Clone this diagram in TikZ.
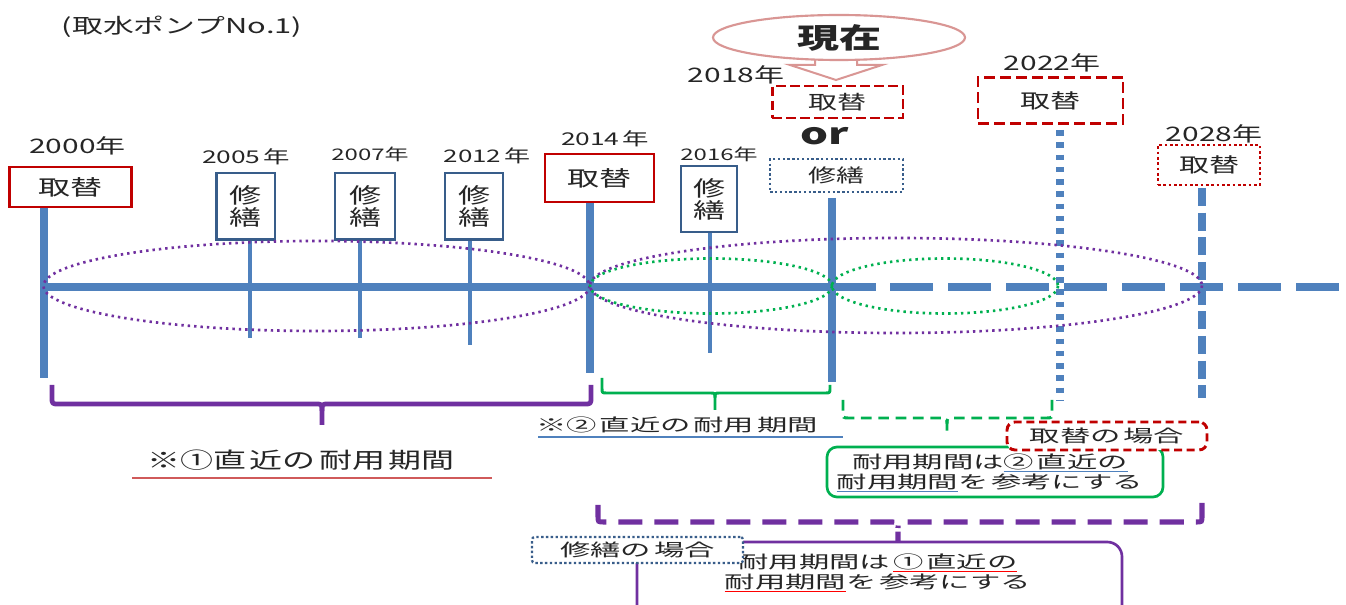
\documentclass[tikz,border=0pt]{standalone}
\usepackage{fontspec}
\newfontfamily\jp[FakeStretch=1.5]{Noto Sans CJK JP}
\newfontfamily\jpw[FakeStretch=1.75]{Noto Sans CJK JP}
\usetikzlibrary{shapes.geometric}
\definecolor{axisblue}{HTML}{4F81BD}
\definecolor{boxblue}{HTML}{385D8A}
\definecolor{myred}{HTML}{C00000}
\definecolor{mypurple}{HTML}{7030A0}
\definecolor{mygreen}{HTML}{00B050}
\definecolor{mypink}{HTML}{D99694}
\definecolor{ulred}{HTML}{FF0000}
\definecolor{ulpink}{HTML}{D05A5A}
\definecolor{txt}{HTML}{262626}
\newcommand\fs[2]{\fontsize{#1}{#2}\selectfont}
\newcommand\cul[2]{\setbox0\hbox{#2}\rlap{\textcolor{#1}{\rule[-2.6pt]{\wd0}{0.8pt}}}\box0}
\begin{document}
\begin{tikzpicture}[x=0.75pt,y=-0.75pt,
  every node/.style={inner sep=0pt, text=txt},
  yr/.style={font=\jp\fs{15pt}{16pt}},
  yrs/.style={font=\jp\fs{12.5pt}{13pt}},
  rbox/.style={draw=myred, line width=2.2pt, fill=white, font=\jp\fs{16pt}{17pt}},
  rdash/.style={draw=myred, line width=2.2pt, fill=white, dash pattern=on 8pt off 4pt, font=\jp\fs{15pt}{16pt}},
  rdot/.style={draw=myred, line width=2.2pt, fill=white, dash pattern=on 2pt off 2pt, font=\jp\fs{15pt}{16pt}},
  bbox/.style={draw=boxblue, line width=2pt, fill=white, align=center, font=\jp\fs{16pt}{16.5pt}},
  bdot/.style={draw=boxblue, line width=1.7pt, fill=white, dash pattern=on 1.8pt off 1.8pt},
  thickax/.style={draw=axisblue, line width=6.5pt},
  thinax/.style={draw=axisblue, line width=2.6pt},
  pell/.style={draw=mypurple, line width=2pt, dash pattern=on 1.8pt off 3pt},
  gell/.style={draw=mygreen, line width=2pt, dash pattern=on 1.8pt off 3pt},
  pbrace/.style={draw=mypurple, line width=3.6pt, line join=round},
  gbrace/.style={draw=mygreen, line width=2.2pt, line join=round},
  gdbrace/.style={draw=mygreen, line width=2.2pt, dash pattern=on 8pt off 5pt},
  pdbrace/.style={draw=mypurple, line width=3.8pt, dash pattern=on 18pt off 9pt},
  note/.style={font=\jpw\fs{13pt}{14pt}}
]
\useasboundingbox (0,0) rectangle (1346,605);
\clip (0,0) rectangle (1346,605);

% title
\node[font=\jp\fs{15.4pt}{16pt}] (title) at (182,27) {(取水ポンプNo.1)};

% axis
\coordinate (a0) at (43,287);
\coordinate (a1) at (876,287);
\coordinate (a2) at (890,287);
\coordinate (a3) at (1340,287);
\draw[draw=axisblue, line width=6.5pt] (a0) -- (a1);
\draw[draw=axisblue, line width=6.5pt, dash pattern=on 32.25pt off 11.25pt] (a2) -- (a3);

% boxes
\node[rbox, minimum width=92pt, minimum height=30pt] (b2000) at (70.5,187) {取替};
\node[bbox, minimum width=44pt, minimum height=50pt] (b2005) at (245.5,206.5) {修\\繕};
\node[bbox, minimum width=45pt, minimum height=50pt] (b2007) at (365,206.5) {修\\繕};
\node[bbox, minimum width=43.5pt, minimum height=50pt] (b2012) at (474,206.5) {修\\繕};
\node[rbox, minimum width=81.75pt, minimum height=36pt] (b2014) at (599.5,178) {取替};
\node[bbox, minimum width=42pt, minimum height=49.5pt] (b2016) at (709,199) {修\\繕};
\node[rdash, line width=2pt, dash pattern=on 7pt off 3.5pt, minimum width=98pt, minimum height=24pt, font=\jp\fs{14.5pt}{15pt}] (b2018r) at (837.5,102) {取替};
\node[font=\jp\bfseries\fs{22pt}{22pt}] (or) at (825,136) {or};
\node[bdot, minimum width=99.5pt, minimum height=24.5pt, font=\jp\fs{14pt}{15pt}] (b2018m) at (836.5,175.5) {修繕};
\node[rdash, minimum width=108.75pt, minimum height=35pt] (b2022) at (1050.5,100.5) {取替};
\node[rdot, minimum width=76.5pt, minimum height=30pt] (b2028) at (1209,165) {取替};

% year labels
\node[yr] (y2000) at (77.5,146) {2000年};
\node[yrs, font=\jp\fs{13.2pt}{14pt}] (y2005) at (246,157) {2005\,年};
\node[yrs, font=\jp\fs{12pt}{13pt}] (y2007) at (370,154) {2007年};
\node[yrs, font=\jp\fs{13pt}{14pt}] (y2012) at (487,156) {2012\,年};
\node[yrs, font=\jp\fs{13.2pt}{14pt}] (y2014) at (605,139) {2014\,年};
\node[yrs, font=\jp\fs{12pt}{13pt}] (y2016) at (719,154) {2016年};
\node[yr] (y2018) at (736,75) {2018年};
\node[yr] (y2022) at (1052,63) {2022年};
\node[yr] (y2028) at (1214,134) {2028年};

% verticals
\coordinate (e2000) at (44,378);
\coordinate (e2005) at (250,338);
\coordinate (e2007) at (360,338);
\coordinate (e2012) at (470,345);
\coordinate (e2014) at (590,373);
\coordinate (e2016) at (710,353);
\coordinate (t2018) at (832,198);
\coordinate (e2018) at (832,382);
\coordinate (t2022) at (1060,130);
\coordinate (e2022) at (1060,400);
\coordinate (t2028) at (1202,188);
\coordinate (e2028) at (1202,398);
\draw[thickax] (e2000 |- b2000.south) -- (e2000);
\draw[thinax] (e2005 |- b2005.south) -- (e2005);
\draw[thinax] (e2007 |- b2007.south) -- (e2007);
\draw[thinax] (e2012 |- b2012.south) -- (e2012);
\draw[thickax] (e2014 |- b2014.south) -- (e2014);
\draw[thinax] (e2016 |- b2016.south) -- (e2016);
\draw[thickax] (t2018) -- (e2018);
\draw[draw=axisblue, line width=6pt, dash pattern=on 4.2pt off 5pt] (t2022) -- (e2022);
\draw[draw=axisblue, line width=6.5pt, dash pattern=on 13.5pt off 5pt] (t2028) -- (e2028);

% ellipses
\draw[pell] (316.5,286) ellipse [x radius=273, y radius=45];
\draw[pell] (896,285.5) ellipse [x radius=306, y radius=47.5];
\draw[gell] (711,286) ellipse [x radius=121, y radius=27.5];
\draw[gell] (945,286) ellipse [x radius=113, y radius=27.5];

% now ellipse + arrow
\draw[draw=mypink, line width=1.5pt, fill=white, line join=miter]
  (815,50) -- (815,65) -- (790,65) -- (836,80) -- (882,65) -- (857,65) -- (857,50);
\node[draw=mypink, line width=1.6pt, fill=white, ellipse, minimum width=189pt, minimum height=33.75pt, font=\jp\bfseries\fs{21pt}{22pt}] (now) at (839,37.5) {現在};

% brace 1 (purple solid)
\draw[pbrace] (52,385) -- (52,397) .. controls (52,404) .. (59,404) -- (315,404) .. controls (322,404) .. (322,411) -- (322,425);
\draw[pbrace] (591,385) -- (591,397) .. controls (591,404) .. (584,404) -- (329,404) .. controls (322,404) .. (322,411);
\node[font=\jp\fs{16.5pt}{17pt}] (lab1) at (301,460) {※①直\,近の\,耐用\,期間};
\coordinate (u1a) at (132,478);
\coordinate (u1b) at (492,478);
\draw[draw=ulpink, line width=1.4pt] (u1a) -- (u1b);

% brace 2 (green solid)
\draw[gbrace] (602,378) -- (602,388) .. controls (602,393) .. (607,393) -- (710,393) .. controls (715,393) .. (715,398) -- (715,410);
\draw[gbrace] (830,385) -- (830,388) .. controls (830,393) .. (825,393) -- (720,393) .. controls (715,393) .. (715,398);
\node[note] (lab2) at (677,425) {※②\,直近の\,耐用\,期間};
\coordinate (u2a) at (538,437);
\coordinate (u2b) at (843,437);
\draw[draw=axisblue, line width=0.9pt] (u2a) -- (u2b);

% brace 3 (green dashed)
\draw[gdbrace] (843,400) -- (843,412) .. controls (843,418) .. (849,418) -- (941,418) .. controls (947,418) .. (947,424) -- (947,436);
\draw[gdbrace] (1052,400) -- (1052,412) .. controls (1052,418) .. (1046,418) -- (953,418) .. controls (947,418) .. (947,424);

% green box
\node[draw=mygreen, line width=2pt, rounded corners=7.5pt, fill=white, minimum width=252pt, minimum height=37.5pt] (gbox) at (995,472) {};
\node[note, align=center, font=\jpw\fs{13pt}{15pt}] (gtext) at (990,473) {耐用期間は\cul{axisblue}{②\,直近の}\\\cul{axisblue}{耐用期間}を\,参考にする};
\node[draw=myred, line width=2.2pt, dash pattern=on 6pt off 3.5pt, rounded corners=6pt, fill=white, minimum width=150pt, minimum height=21pt, note] (rcase) at (1107,436) {取替の\,場合};

% brace 4 (purple dashed)
\draw[pdbrace] (598,505) -- (598,516) .. controls (598,522) .. (604,522) -- (892,522) .. controls (898,522) .. (898,528) -- (898,542);
\draw[pdbrace] (1202,503) -- (1202,516) .. controls (1202,522) .. (1196,522) -- (904,522) .. controls (898,522) .. (898,528);

% purple box
\node[draw=mypurple, line width=2pt, rounded corners=11pt, fill=white, minimum width=363.75pt, minimum height=60pt] (pbox) at (879.5,582) {};
\node[align=center, font=\jpw\fs{13pt}{12.2pt}] (ptext) at (878,573) {耐用期間は\,\cul{ulred}{①\,直近の}\\\cul{ulred}{耐用期間}を\,参考にする};
\node[bdot, minimum width=158.25pt, minimum height=19.5pt, rounded corners=2pt, note] (mcase) at (637.5,550) {修繕の\,場合};
\end{tikzpicture}
\end{document}
